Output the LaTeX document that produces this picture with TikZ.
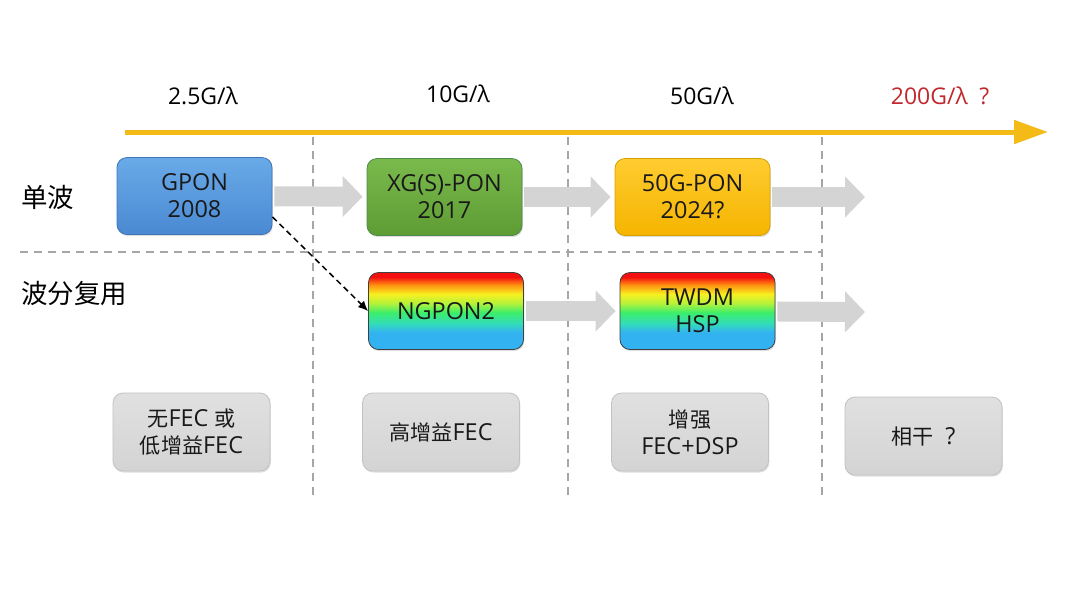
\documentclass[tikz,border=0pt]{standalone}
\usepackage{fontspec}
\setmainfont{Open Sans}
\newfontfamily\cjk[Scale=0.9]{Noto Sans CJK SC}
\usetikzlibrary{arrows.meta,shadows}

\definecolor{timeyellow}{HTML}{F4BA16}
\definecolor{arrowgray}{HTML}{D4D4D4}
\definecolor{dashgray}{HTML}{A6A6A6}
\definecolor{qred}{HTML}{C0282D}
\definecolor{rbblue}{HTML}{33B2F2}
\definecolor{rbcyan}{HTML}{33DDB8}
\definecolor{rbgreen}{HTML}{3CEE6A}
\definecolor{rbyelgreen}{HTML}{B4F23A}
\definecolor{rbyellow}{HTML}{F8F020}
\definecolor{rborange}{HTML}{FF9010}
\definecolor{rbred}{HTML}{F41010}

\pgfdeclareverticalshading{rainbow}{100bp}{color(0bp)=(rbblue); color(36bp)=(rbblue);
  color(42bp)=(rbcyan); color(49bp)=(rbgreen); color(55bp)=(rbyelgreen);
  color(61bp)=(rbyellow); color(67bp)=(rborange); color(72bp)=(rbred); color(100bp)=(rbred)}

\begin{document}
\begin{tikzpicture}[
        x=0.5pt, y=-0.5pt,
        box/.style={rounded corners=5pt, minimum width=77.5pt, minimum height=38.5pt,
            align=center, text=black!90, line width=0.4pt,
            font=\fontsize{11.7}{13.5}\selectfont,
            drop shadow={shadow xshift=0.4pt, shadow yshift=-0.8pt, opacity=0.25}},
        gponbox/.style={box, top color=gpontop, bottom color=gponbot},
        fecbox/.style={box, minimum width=78.5pt, minimum height=39pt, draw=black!24,
            top color=black!12, bottom color=black!17},
        rainbowbox/.style={box, draw=black!75, shading=rainbow},
        rate/.style={font=\fontsize{11.5}{13.5}\selectfont},
        rowlabel/.style={anchor=west, inner sep=0pt, font=\fontsize{14.7}{16}\selectfont\cjk},
        grid/.style={dashgray, line width=0.75pt, dash pattern=on 4pt off 3pt},
        step arrow/.style={arrowgray, line width=10pt, shorten <=1pt, shorten >=2pt,
            -{Triangle[length=10pt, width=20pt]}}
    ]

    \definecolor{gpontop}{HTML}{69AAE8}
    \definecolor{gponbot}{HTML}{4A89D2}

    % frame
    \useasboundingbox (0,0) rectangle (1080,607);

    % grid lines
    \draw[grid] (20,252) -- (822,252);
    \foreach \x in {313,568,822}
        \draw[grid] (\x,137) -- (\x,497);

    % time axis
    \coordinate (tstart) at (125,132);
    \coordinate (tend) at (1048,132);
    \draw[timeyellow, line width=2.5pt, -{Triangle[length=17pt, width=11.5pt]}] (tstart) -- (tend);

    \node[rate] (r25) at (203,96) {2.5G/λ};
    \node[rate] (r10) at (458,94) {10G/λ};
    \node[rate] (r50) at (702,96) {50G/λ};
    \node[rate, text=qred] (r200) at (940,96) {200G/λ\enspace ?};

    % row labels
    \node[rowlabel] (single) at (21,197) {单波};
    \node[rowlabel] (wdm) at (21,293) {波分复用};

    % single wavelength
    \node[gponbox, draw=gponbot!85!black] (gpon) at (194.5,196) {GPON\\2008};
    \node[box, draw=green!35!black!70, top color={rgb,255:red,122;green,186;blue,76},
        bottom color={rgb,255:red,94;green,156;blue,52}] (xgpon) at (444.5,197) {XG(S)-PON\\2017};
    \node[box, draw={rgb,255:red,214;green,160;blue,0}, top color={rgb,255:red,255;green,204;blue,48},
        bottom color={rgb,255:red,245;green,180;blue,0}] (fiftyg) at (692.5,197) {50G-PON\\2024?};

    % wdm
    \node[rainbowbox] (ngpon) at (446,311) {NGPON2};
    \node[rainbowbox] (twdm) at (697.5,311) {TWDM\\HSP};

    % fec
    \node[fecbox] (nofec) at (191.5,432) {{\cjk 无}FEC {\cjk 或}\\{\cjk 低增益}FEC};
    \node[fecbox] (hifec) at (441,432) {{\cjk 高增益}FEC};
    \node[fecbox] (enhfec) at (690,432) {{\cjk 增强}\\FEC+DSP};
    \node[fecbox] (coh) at (923.5,436) {{\cjk 相干}\enspace?};

    % arrows
    \coordinate (next1) at (865,197);
    \coordinate (next2) at (865,312);
    \draw[step arrow] (gpon) -- (xgpon);
    \draw[step arrow] (xgpon) -- (fiftyg);
    \draw[step arrow, shorten >=0pt] (fiftyg) -- (next1);
    \draw[step arrow] (ngpon) -- (twdm);
    \draw[step arrow, shorten >=0pt] (twdm) -- (next2);

    \draw[black, line width=0.75pt, dash pattern=on 3pt off 2pt,
        -{Latex[length=5pt, width=4.5pt]}] (gpon.-15) -- (ngpon.west);
\end{tikzpicture}
\end{document}
